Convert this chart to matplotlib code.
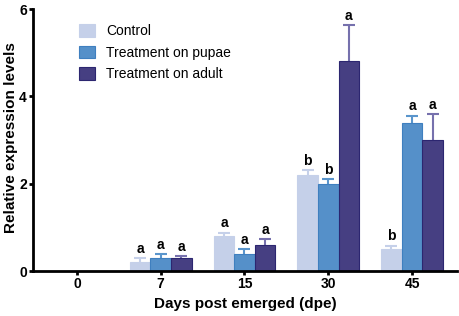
import numpy as np
import matplotlib
matplotlib.use('Agg')
import matplotlib.pyplot as plt

plt.rcParams['font.family'] = ['Liberation Sans', 'DejaVu Sans']

# data
days = ['0', '7', '15', '30', '45']
groups = ['Control', 'Treatment on pupae', 'Treatment on adult']
means = {
    'Control': [0, 0.2, 0.8, 2.2, 0.5],
    'Treatment on pupae': [0, 0.3, 0.4, 2.0, 3.4],
    'Treatment on adult': [0, 0.3, 0.6, 4.8, 3.0],
}
errs = {
    'Control': [0, 0.09, 0.08, 0.11, 0.08],
    'Treatment on pupae': [0, 0.08, 0.1, 0.1, 0.16],
    'Treatment on adult': [0, 0.04, 0.14, 0.83, 0.6],
}
letters = {
    'Control': ['', 'a', 'a', 'b', 'b'],
    'Treatment on pupae': ['', 'a', 'a', 'b', 'a'],
    'Treatment on adult': ['', 'a', 'a', 'a', 'a'],
}

colors = ['#c5d0e9', '#5590c9', '#463f82']
edges = ['#c5d0e9', '#3f7fbf', '#2c2670']
err_colors = ['#c5d0e9', '#5a95cc', '#7671ad']

fig = plt.figure(figsize=(4.59, 3.16), dpi=100)
ax = fig.add_axes([0.0719, 0.1424, 0.9237, 0.8291])

x = np.arange(len(days))
w = 0.245
for i, g in enumerate(groups):
    pos = x + (i - 1) * w
    m = np.array(means[g])
    e = np.array(errs[g])
    ax.bar(pos, m, width=w, color=colors[i], edgecolor=edges[i], linewidth=0.8,
           label=g, zorder=2)
    eb = ax.errorbar(pos[1:], m[1:], yerr=[np.zeros(len(e) - 1), e[1:]], fmt='none',
                     ecolor=err_colors[i], elinewidth=1.5, capsize=4, capthick=1.5,
                     zorder=1)
    eb[1][0].set_visible(False)  # hide lower caps
    for p, mv, ev, t in zip(pos, m, e, letters[g]):
        if t:
            ax.text(p, mv + ev + 0.05, t, ha='center', va='bottom',
                    fontsize=10, fontweight='bold')

ax.set_xlim(-0.525, 4.537)
ax.set_ylim(0, 6)
ax.set_yticks([0, 2, 4, 6])
ax.set_xticks(x)
ax.set_xticklabels(days)
ax.spines['top'].set_visible(False)
ax.spines['right'].set_visible(False)
ax.spines['left'].set_linewidth(2)
ax.spines['bottom'].set_linewidth(2)
ax.tick_params(width=2, length=3, labelsize=10, pad=1.5)
for lbl in ax.get_xticklabels() + ax.get_yticklabels():
    lbl.set_fontweight('bold')
ax.set_xlabel('Days post emerged (dpe)', fontsize=11, fontweight='bold', labelpad=4)
ax.set_ylabel('Relative expression levels', fontsize=11, fontweight='bold')
ax.yaxis.set_label_coords(-0.036, 0.51)

ax.legend(loc='upper left', bbox_to_anchor=(0.08, 0.99), frameon=False,
          fontsize=10, handlelength=1.1, handleheight=1.0, labelspacing=0.55,
          handletextpad=0.8)

plt.savefig('out.png', dpi=100)
